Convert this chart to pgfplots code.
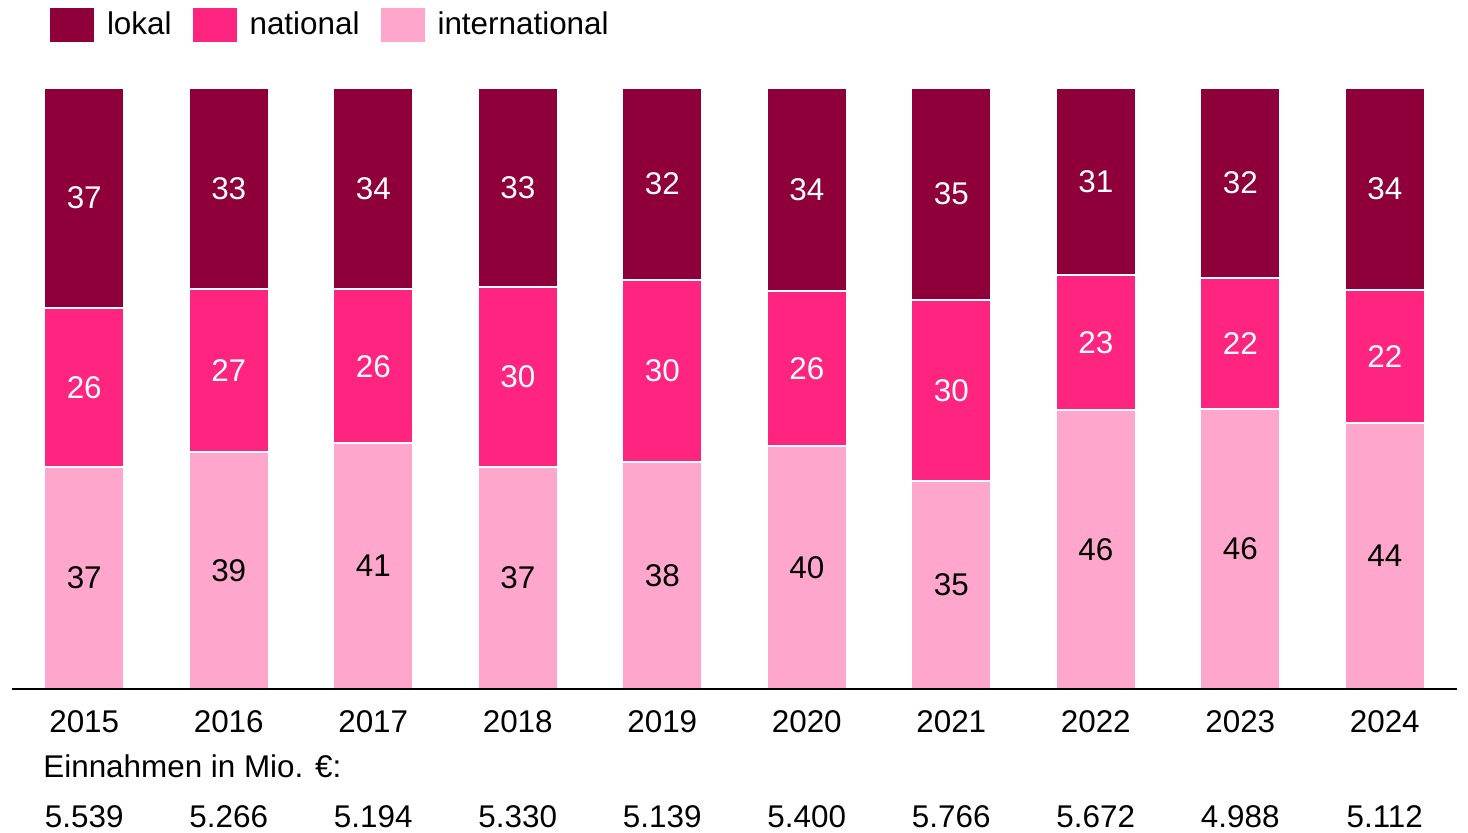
\documentclass[border=0pt]{standalone}
\usepackage{pgfplots}
\pgfplotsset{compat=1.18}
\usepackage{pgfplotstable}
\usepackage{fontspec}
\setmainfont{Liberation Sans}

\definecolor{lokal}{HTML}{8F003A}
\definecolor{national}{HTML}{FF2480}
\definecolor{intl}{HTML}{FFA6CD}

% shares in percent (bar heights) and the printed labels
\pgfplotstableread{
x int nat lok intL natL lokL ein
0 36.9 26.5 36.6 37 26 37 5.539
1 39.4 27.1 33.5 39 27 33 5.266
2 40.9 25.6 33.5 41 26 34 5.194
3 36.9 30.0 33.1 37 30 33 5.330
4 37.8 30.3 31.9 38 30 32 5.139
5 40.4 25.8 33.8 40 26 34 5.400
6 34.6 30.1 35.3 35 30 35 5.766
7 46.4 22.5 31.1 46 23 31 5.672
8 46.6 21.8 31.6 46 22 32 4.988
9 44.3 22.1 33.6 44 22 34 5.112
}\anteile

\begin{document}
\begin{tikzpicture}[font=\fontsize{15.7}{18}\selectfont]
\useasboundingbox (-6pt,-71.5pt) rectangle (728pt,344.5pt);
\begin{axis}[
    at={(0,0)}, anchor=south west,
    scale only axis, width=722.5pt, height=300.5pt,
    xmin=-0.5, xmax=9.5, ymin=0, ymax=100,
    axis x line*=bottom, axis y line=none,
    axis line style={line width=1pt, black},
    axis on top, clip=false,
    xtick={0,...,9},
    xticklabels={2015,2016,2017,2018,2019,2020,2021,2022,2023,2024},
    major tick length=0pt,
    xticklabel style={anchor=base, yshift=-21.5pt, inner sep=0pt},
    ytick=\empty,
    legend columns=-1,
    legend style={draw=none, fill=none, inner sep=0pt, outer sep=0pt,
        at={(rel axis cs:0,1)}, anchor=north west, xshift=19pt, yshift=40pt,
        nodes={inner sep=0pt},
        /tikz/every odd column/.append style={column sep=6.5pt},
        /tikz/every even column/.append style={column sep=10.5pt}},
]
\addplot[ybar, bar width=40pt, bar shift=0pt, fill=lokal, draw=white, line width=1pt,
    legend image code/.code={\fill[lokal] (0pt,-8pt) rectangle (21pt,8pt);}]
    table[x=x, y expr=\thisrow{int}+\thisrow{nat}+\thisrow{lok}] {\anteile};
\addlegendentry{lokal}
\addplot[ybar, bar width=40pt, bar shift=0pt, fill=national, draw=white, line width=1pt,
    legend image code/.code={\fill[national] (0pt,-8pt) rectangle (21pt,8pt);}]
    table[x=x, y expr=\thisrow{int}+\thisrow{nat}] {\anteile};
\addlegendentry{national}
\addplot[ybar, bar width=40pt, bar shift=0pt, fill=intl, draw=white, line width=1pt,
    legend image code/.code={\fill[intl] (0pt,-8pt) rectangle (21pt,8pt);}]
    table[x=x, y=int] {\anteile};
\addlegendentry{international}

% labels centred in the segments
\addplot[forget plot, draw=none, mark=none, nodes near coords, point meta=explicit symbolic,
    every node near coord/.style={anchor=center, inner sep=0pt, text=white}]
    table[x=x, y expr=\thisrow{int}+\thisrow{nat}+\thisrow{lok}/2, meta=lokL] {\anteile};
\addplot[forget plot, draw=none, mark=none, nodes near coords, point meta=explicit symbolic,
    every node near coord/.style={anchor=center, inner sep=0pt, text=white}]
    table[x=x, y expr=\thisrow{int}+\thisrow{nat}/2, meta=natL] {\anteile};
\addplot[forget plot, draw=none, mark=none, nodes near coords, point meta=explicit symbolic,
    every node near coord/.style={anchor=center, inner sep=0pt, text=black}]
    table[x=x, y expr=\thisrow{int}/2, meta=intL] {\anteile};

% revenue row under the years
\addplot[forget plot, draw=none, mark=none, nodes near coords, point meta=explicit symbolic,
    every node near coord/.style={anchor=base, inner sep=0pt, yshift=-69pt, text=black}]
    table[x=x, y expr=0, meta=ein] {\anteile};
\node[anchor=base west, inner sep=0pt] at (rel axis cs:0,0) [xshift=15.5pt, yshift=-44pt]
    {Einnahmen in Mio. €:};
\end{axis}
\end{tikzpicture}
\end{document}
